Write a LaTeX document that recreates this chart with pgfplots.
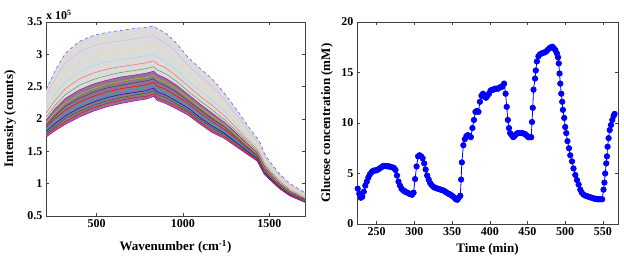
\documentclass[border=0pt]{standalone}
\usepackage{pgfplots}
\pgfplotsset{compat=1.18}
\usepackage{pgfplotstable}
\usepgfplotslibrary{fillbetween}
\usepackage{fontspec}
\setmainfont{Liberation Serif}
\definecolor{mb}{rgb}{0,0,1}
\definecolor{mg}{rgb}{0,0.5,0}
\definecolor{mr}{rgb}{1,0,0}
\definecolor{mc}{rgb}{0,0.75,0.75}
\definecolor{mm}{rgb}{0.75,0,0.75}
\definecolor{my}{rgb}{0.75,0.75,0}
\definecolor{mk}{rgb}{0.25,0.25,0.25}
\definecolor{bandmix}{RGB}{140,118,145}

\pgfplotstableread{
w s1 s2 s3 s4 s5 s6 s7 s8 s9 s10 s11 s12 s13 s14 s15
207 1.72 1.75 1.78 1.81 1.84 1.87 1.90 1.94 1.98 2.03 2.09 2.16 2.25 2.35 2.45
260 1.82 1.86 1.89 1.93 1.97 2.01 2.05 2.10 2.16 2.21 2.29 2.38 2.49 2.62 2.75
320 1.92 1.96 2.01 2.05 2.10 2.14 2.20 2.25 2.32 2.38 2.47 2.58 2.71 2.87 3.02
400 2.03 2.08 2.12 2.17 2.22 2.26 2.32 2.38 2.45 2.52 2.62 2.73 2.87 3.04 3.20
480 2.12 2.17 2.21 2.26 2.31 2.35 2.41 2.47 2.54 2.61 2.71 2.82 2.96 3.13 3.29
560 2.19 2.24 2.28 2.33 2.37 2.42 2.48 2.54 2.60 2.67 2.77 2.88 3.02 3.18 3.34
640 2.24 2.29 2.33 2.38 2.42 2.47 2.52 2.58 2.65 2.72 2.81 2.92 3.05 3.21 3.37
720 2.28 2.33 2.37 2.41 2.46 2.50 2.56 2.62 2.68 2.75 2.84 2.95 3.09 3.24 3.40
790 2.31 2.35 2.40 2.44 2.49 2.53 2.59 2.64 2.71 2.78 2.87 2.98 3.11 3.27 3.42
830 2.35 2.39 2.44 2.48 2.52 2.57 2.62 2.68 2.74 2.81 2.90 3.00 3.14 3.29 3.44
850 2.29 2.33 2.38 2.42 2.47 2.51 2.57 2.62 2.69 2.76 2.85 2.96 3.09 3.24 3.40
900 2.24 2.28 2.33 2.37 2.41 2.46 2.51 2.57 2.63 2.70 2.79 2.89 3.03 3.18 3.33
960 2.16 2.20 2.24 2.28 2.32 2.36 2.42 2.47 2.53 2.59 2.67 2.77 2.89 3.04 3.18
1030 2.06 2.10 2.13 2.17 2.20 2.24 2.28 2.33 2.38 2.43 2.51 2.59 2.70 2.83 2.95
1100 1.92 1.95 1.99 2.02 2.06 2.09 2.14 2.18 2.23 2.28 2.35 2.44 2.54 2.66 2.78
1170 1.79 1.82 1.86 1.89 1.92 1.96 2.00 2.04 2.09 2.14 2.21 2.29 2.39 2.50 2.62
1240 1.70 1.73 1.76 1.78 1.81 1.84 1.88 1.91 1.95 1.99 2.05 2.12 2.20 2.30 2.40
1310 1.57 1.59 1.62 1.64 1.66 1.69 1.72 1.74 1.78 1.81 1.86 1.92 1.99 2.07 2.15
1380 1.44 1.46 1.48 1.49 1.51 1.53 1.55 1.57 1.60 1.63 1.66 1.70 1.76 1.82 1.88
1430 1.35 1.36 1.38 1.39 1.41 1.42 1.44 1.46 1.48 1.50 1.53 1.56 1.60 1.65 1.70
1450 1.25 1.27 1.28 1.29 1.31 1.32 1.34 1.36 1.38 1.41 1.44 1.47 1.52 1.57 1.62
1470 1.15 1.16 1.18 1.19 1.20 1.22 1.23 1.25 1.27 1.29 1.32 1.35 1.39 1.43 1.48
1500 1.07 1.08 1.09 1.10 1.12 1.13 1.14 1.15 1.17 1.19 1.21 1.24 1.27 1.31 1.35
1560 0.92 0.93 0.94 0.95 0.96 0.97 0.98 0.99 1.00 1.02 1.04 1.06 1.09 1.12 1.15
1620 0.81 0.82 0.83 0.83 0.84 0.85 0.86 0.87 0.88 0.89 0.91 0.92 0.95 0.97 1.00
1707 0.71 0.72 0.72 0.73 0.73 0.74 0.75 0.76 0.76 0.77 0.79 0.80 0.82 0.84 0.86
}\spec

\pgfplotsset{
  mystyle/.style={
    scale only axis,
    anchor=south west,
    axis line style={black!75, line width=0.6pt},
    tick align=inside,
    major tick length=3pt,
    every tick/.style={black!75, line width=0.5pt},
    tick label style={font=\fontsize{12}{14}\selectfont\bfseries},
    label style={font=\fontsize{13}{15}\selectfont\bfseries},
    /pgf/number format/assume math mode=true,
    /pgf/number format/1000 sep={},
    clip=true,
  }
}

\begin{document}
\begin{tikzpicture}
\begin{axis}[mystyle,
  at={(46pt,45pt)}, width=259pt, height=194pt,
  xmin=207, xmax=1707, ymin=0.5, ymax=3.5,
  xtick={500,1000,1500},
  ytick={0.5,1,1.5,2,2.5,3,3.5},
  yticklabel style={/pgf/number format/fixed},
  xlabel={Wavenumber (cm\textsuperscript{-1})},
  ylabel={Intensity (counts)},
  x label style={at={(axis description cs:0.5,-0.16)}, anchor=center},
  y label style={at={(axis description cs:-0.139,0.5)}, anchor=center},
]
\addplot[draw=none, name path=bot] table[x=w,y=s1]{\spec};
\addplot[draw=none, name path=mid] table[x=w,y=s9]{\spec};
\addplot[draw=none, name path=top] table[x=w,y=s15]{\spec};
\addplot[gray!28] fill between[of=top and bot];
\addplot[bandmix] fill between[of=mid and bot];
\addplot[mm, line width=0.6pt] table[x=w,y=s1]{\spec};
\addplot[mr, line width=0.5pt] table[x=w,y=s2]{\spec};
\addplot[mg, line width=0.5pt] table[x=w,y=s3]{\spec};
\addplot[mb, line width=0.5pt] table[x=w,y=s4]{\spec};
\addplot[mc, line width=0.5pt] table[x=w,y=s5]{\spec};
\addplot[mr, line width=0.5pt] table[x=w,y=s6]{\spec};
\addplot[mk, line width=0.5pt] table[x=w,y=s7]{\spec};
\addplot[my, line width=0.5pt] table[x=w,y=s8]{\spec};
\addplot[mm, line width=0.5pt] table[x=w,y=s9]{\spec};
\addplot[mg!70, line width=0.5pt] table[x=w,y=s10]{\spec};
\addplot[mr!60, line width=0.5pt] table[x=w,y=s11]{\spec};
\addplot[mc!45, line width=0.4pt] table[x=w,y=s12]{\spec};
\addplot[my!45, line width=0.4pt] table[x=w,y=s13]{\spec};
\addplot[mm!35, line width=0.4pt] table[x=w,y=s14]{\spec};
\addplot[mb!70, line width=0.5pt, dashed] table[x=w,y=s15]{\spec};
\end{axis}
\node[anchor=south west, font=\fontsize{12}{14}\selectfont\bfseries, inner sep=0pt] at (46pt,241pt) {x 10\textsuperscript{5}};

\begin{axis}[mystyle,
  at={(357pt,37pt)}, width=261pt, height=202pt,
  xmin=224, xmax=570, ymin=0, ymax=20,
  xtick={250,300,350,400,450,500,550},
  ytick={0,5,10,15,20},
  xlabel={Time (min)},
  ylabel={Glucose concentration (mM)},
  x label style={at={(axis description cs:0.5,-0.124)}, anchor=center},
  y label style={at={(axis description cs:-0.115,0.5)}, anchor=center},
]
\addplot[mb, line width=0.8pt, mark=*, mark size=2.7pt, mark options={fill=mb, draw=mb}] coordinates {
(225,3.5)(227,3.0)(229,2.6)(231,2.7)(233,3.2)(235,3.8)(237,4.2)(239,4.6)(241,4.9)(243,5.1)
(245,5.25)(247,5.3)(249,5.3)(251,5.35)(253,5.45)(255,5.55)(257,5.65)(259,5.75)(261,5.75)(263,5.75)
(265,5.7)(267,5.7)(269,5.65)(271,5.6)(273,5.55)(275,5.35)(277,4.8)(279,4.2)(281,3.8)(283,3.5)
(285,3.35)(287,3.25)(289,3.15)(291,3.1)(293,3.0)(295,2.95)(297,2.9)(299,3.1)(301,4.45)(303,5.7)
(305,6.7)(307,6.8)(309,6.7)(311,6.5)(313,6.0)(315,5.4)(317,4.8)(319,4.4)(321,4.05)(323,3.85)
(325,3.7)(327,3.6)(329,3.55)(331,3.5)(333,3.45)(335,3.4)(337,3.35)(339,3.3)(341,3.2)(343,3.1)
(345,3.0)(347,2.95)(349,2.85)(351,2.75)(353,2.6)(355,2.45)(357,2.4)(359,2.6)(361,2.8)(362,4.4)
(363,6.1)(365,7.8)(367,8.4)(369,8.7)(371,8.8)(373,8.7)(375,8.6)(377,9.5)(379,10.3)(381,11.1)
(383,11.2)(385,11.1)(387,12.1)(389,12.7)(391,12.9)(393,12.6)(395,12.5)(397,12.7)(399,12.9)(401,13.2)
(403,13.3)(405,13.3)(407,13.4)(409,13.4)(411,13.4)(413,13.5)(415,13.6)(417,13.6)(419,13.9)(421,12.9)
(422.5,11.6)(424,10.3)(425.5,9.5)(427,9.0)(429,8.8)(431,8.6)(433,8.7)(435,8.9)(437,9.0)(439,9.0)
(441,9.0)(443,9.0)(445,8.95)(447,8.9)(449,8.75)(451,8.6)(453,8.6)(455,8.6)(456,10.1)(457,11.5)
(458,13.3)(460,14.4)(461,15.2)(462.5,16.1)(464.5,16.6)(466.5,16.8)(469,16.9)(471,16.95)(473,17.0)(475,17.1)
(477,17.25)(479,17.4)(481,17.5)(483,17.55)(485,17.4)(487,17.2)(489,16.9)(490.5,16.5)(491.5,15.9)(492.5,14.9)
(493.5,13.9)(494.8,12.9)(496,12.1)(497,11.3)(498.7,10.5)(500,9.6)(501.4,9.0)(503,8.2)(505,7.5)(506.7,6.8)
(509,6.2)(511,5.5)(513.4,4.85)(515.6,4.35)(517.8,3.9)(520,3.4)(522,3.1)(524.4,2.9)(527,2.8)(529,2.75)
(531,2.7)(533,2.65)(535,2.6)(537,2.55)(539,2.5)(541,2.5)(543,2.45)(545,2.45)(547,2.45)(549,2.45)
(550.8,3.4)(552,4.1)(553,5.0)(554.4,6.0)(555.3,6.7)(556.2,7.65)(557.5,8.5)(559,9.3)(560.7,9.8)(562.4,10.3)
(564.2,10.7)(565.5,10.9)
};
\end{axis}
\pgfresetboundingbox
\path (0,0) rectangle (624pt,261pt);
\end{tikzpicture}
\end{document}
